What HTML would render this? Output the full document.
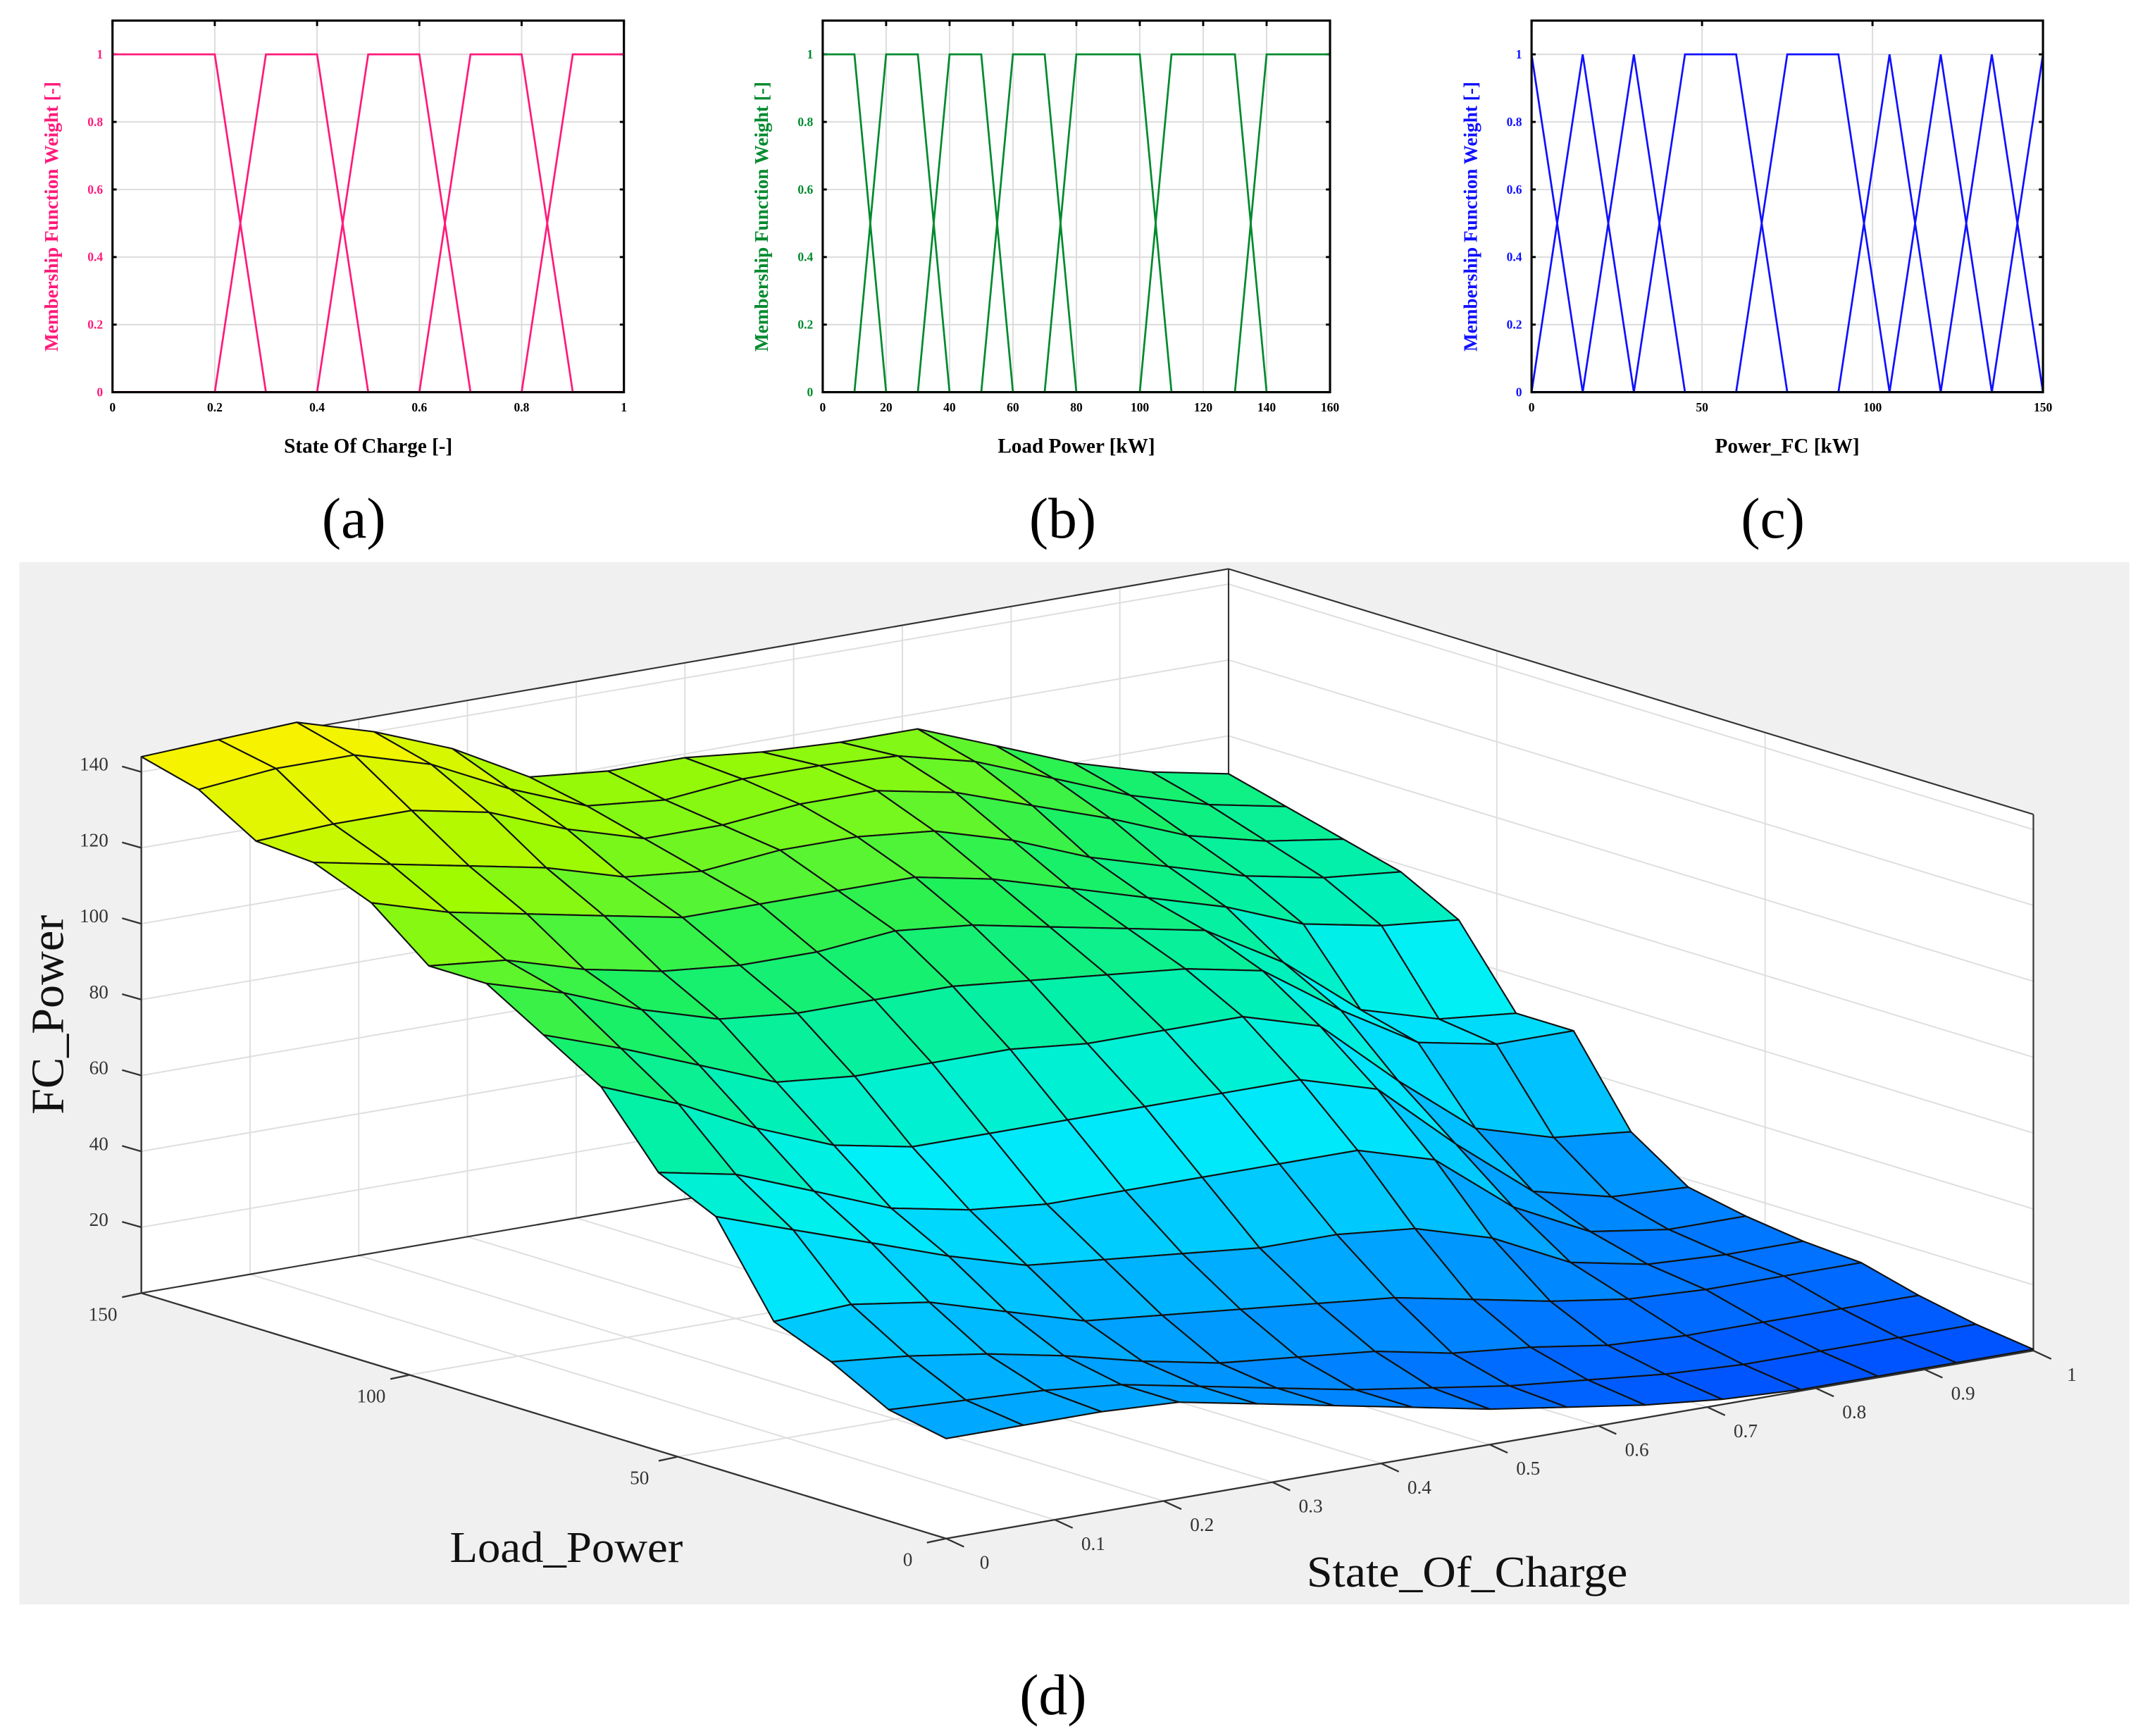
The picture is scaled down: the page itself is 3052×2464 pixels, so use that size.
<!DOCTYPE html>
<html><head><meta charset="utf-8"><title>Fuzzy membership functions and FC power surface</title>
<style>
html,body{margin:0;padding:0;background:#fff;}
svg{display:block;}
text{font-family:"Liberation Serif",serif;}
</style></head>
<body>
<svg id="fig" xmlns="http://www.w3.org/2000/svg" width="3052" height="2464" viewBox="0 0 1568 1266">
<rect x="0" y="0" width="1568" height="1266" fill="#fff"/>
<g id="panels"></g>
<text x="258" y="392" font-size="42" text-anchor="middle">(a)</text>
<text x="775" y="392" font-size="42" text-anchor="middle">(b)</text>
<text x="1293" y="392" font-size="42" text-anchor="middle">(c)</text>
<rect x="14" y="410" width="1539" height="760" fill="#f0f0f0"/>
<g id="plot3d"></g>
<text x="768" y="1250" font-size="42" text-anchor="middle">(d)</text>
</svg>
<script>
// ---------- membership function data ----------
const socMFs = [[0,0,0.2,0.3],[0.2,0.3,0.4,0.5],[0.4,0.5,0.6,0.7],[0.6,0.7,0.8,0.9],[0.8,0.9,1,1]];
const socTicks = [0,0.2,0.4,0.6,0.8,1];
const loadMFs = [[0,0,10,20],[10,20,30,40],[30,40,50,60],[50,60,70,80],[70,80,100,110],[100,110,130,140],[130,140,160,160]];
const loadTicks = [0,20,40,60,80,100,120,140,160];
const fcMFs = [[0,0,0,15],[0,15,15,30],[15,30,30,45],[30,45,60,75],[60,75,90,105],[90,105,105,120],[105,120,120,135],[120,135,135,150],[135,150,150,150]];
const fcTicks = [0,50,100,150];
const weightTicks = [0,0.2,0.4,0.6,0.8,1];

// ---------- surface data (FC_Power), rows = Load_Power index 0..14 (0..150), cols = SOC 0..1 ----------
const loadGrid = [0,10.7,21.4,32.1,42.9,53.6,64.3,75,85.7,96.4,107.1,117.9,128.6,139.3,150];
const socGrid = [0,0.071,0.143,0.214,0.286,0.357,0.429,0.5,0.571,0.643,0.714,0.786,0.857,0.929,1];
const fcRow0  = [29,29,29,28,24,20,16,12,9,6,4,3,3,3,3];
const fcRow1  = [32,31,30,28,24,20,16,13,10,8,6,5,5,5,5];
const fcRow2  = [40,38,35,31,26,22,20,18,14,12,9,8,8,8,8];
const fcRow3  = [46,47,44,38,32,30,28,26,24,20,16,13,12,12,12];
const fcRow4  = [69,62,55,48,42,40,38,36,36,34,28,18,14,13,13];
const fcRow5  = [76,72,64,56,52,50,50,50,50,50,44,28,18,15,15];
const fcRow6  = [94,86,76,68,64,64,64,64,64,64,58,40,24,19,18];
const fcRow7  = [103,96,88,80,78,78,78,76,76,76,70,52,36,30,28];
const fcRow8  = [112,106,98,92,90,90,90,88,86,84,80,66,54,50,50];
const fcRow9  = [112,110,104,100,98,98,100,98,94,90,86,74,58,52,50];
const fcRow10 = [124,118,114,110,106,106,106,106,102,96,90,84,76,72,70];
const fcRow11 = [130,126,122,118,112,110,112,112,110,104,96,90,84,80,78];
const fcRow12 = [131,132,132,128,120,114,114,116,116,112,105,98,90,85,82];
const fcRow13 = [140,142,142,136,126,118,116,118,118,117,112,104,96,90,86];
const fcRow14 = [144,145,146,140,132,121,119,119,117,116,116,108,100,94,90];
const fcPower = [fcRow0,fcRow1,fcRow2,fcRow3,fcRow4,fcRow5,fcRow6,fcRow7,fcRow8,fcRow9,fcRow10,fcRow11,fcRow12,fcRow13,fcRow14];
const zTicks = [20,40,60,80,100,120,140];
const loadAxisTicks = [0,50,100,150];
const socAxisTicks = [0,0.1,0.2,0.3,0.4,0.5,0.6,0.7,0.8,0.9,1];

const NS = "http://www.w3.org/2000/svg";
function mk(parent, tag, attrs){
  const e = document.createElementNS(NS, tag);
  for (const k in attrs) e.setAttribute(k, attrs[k]);
  parent.appendChild(e);
  return e;
}

// ---------- 2D panels ----------
function panel(cfg){
  const g = document.getElementById('panels');
  const L = cfg.x0, R = cfg.x1, T = 15, B = 286;
  const xs = v => L + (v - cfg.min) / (cfg.max - cfg.min) * (R - L);
  const ys = v => B - v / 1.1 * (B - T);
  const bg = mk(g,'rect',{x:L,y:T,width:R-L,height:B-T,fill:'#fff'});
  
  
  weightTicks.forEach(v => {
    const gl = mk(g,'line',{x1:L,x2:R,y1:ys(v),y2:ys(v),stroke:'#dcdcdc','stroke-width':1});
    
    
    const tk = mk(g,'line',{x1:L,x2:L+3,y1:ys(v),y2:ys(v),stroke:'#000','stroke-width':1.5});
    
    
    const tk2 = mk(g,'line',{x1:R-3,x2:R,y1:ys(v),y2:ys(v),stroke:'#000','stroke-width':1.5});
    
    
    const t = mk(g,'text',{x:L-7,y:ys(v)+3,'font-size':9,'font-weight':'bold','text-anchor':'end',fill:cfg.color});
    t.textContent = v;
    
    
  });
  cfg.ticks.forEach(v => {
    const gl = mk(g,'line',{x1:xs(v),x2:xs(v),y1:T,y2:B,stroke:'#dcdcdc','stroke-width':1});
    
    
    const tk = mk(g,'line',{x1:xs(v),x2:xs(v),y1:T,y2:T+4,stroke:'#000','stroke-width':1.5});
    
    
    const t = mk(g,'text',{x:xs(v),y:B+14,'font-size':9,'font-weight':'bold','text-anchor':'middle',fill:'#000'});
    t.textContent = v;
    
    
  });
  cfg.mfs.forEach((m, i) => {
    const pts = [[cfg.min,0],[m[0],0],[m[1],1],[m[2],1],[m[3],0],[cfg.max,0]];
    if (m[0] === cfg.min && m[1] === cfg.min) pts.splice(0,2,[cfg.min,1]);
    if (m[3] === cfg.max && m[2] === cfg.max) pts.splice(pts.length-2,2,[cfg.max,1]);
    const p = mk(g,'polyline',{points:pts.map(q => xs(q[0]).toFixed(2)+','+ys(q[1]).toFixed(2)).join(' '),fill:'none',stroke:cfg.color,'stroke-width':1.4});
    
    
  });
  const fr = mk(g,'rect',{x:L,y:T,width:R-L,height:B-T,fill:'none',stroke:'#000','stroke-width':1.6});
  
  
  const xl = mk(g,'text',{x:(L+R)/2,y:330,'font-size':15,'font-weight':'bold','text-anchor':'middle',fill:'#000'});
  xl.textContent = cfg.xlabel;
  
  
  const yl = mk(g,'text',{x:0,y:0,'font-size':14,'font-weight':'bold','text-anchor':'middle',fill:cfg.color,transform:'translate('+(L-40)+',158) rotate(-90)'});
  yl.textContent = 'Membership Function Weight [-]';
  
  
}
panel({id:'soc-panel',x0:82,x1:455,min:0,max:1,ticks:socTicks,mfs:socMFs,color:'#ff1a7a',xlabel:'State Of Charge [-]'});
panel({id:'load-panel',x0:600,x1:970,min:0,max:160,ticks:loadTicks,mfs:loadMFs,color:'#008a2e',xlabel:'Load Power [kW]'});
panel({id:'fc-panel',x0:1117,x1:1490,min:0,max:150,ticks:fcTicks,mfs:fcMFs,color:'#1010ff',xlabel:'Power_FC [kW]'});

// ---------- 3D surface ----------
const g3 = document.getElementById('plot3d');
const ZMIN = 2.65, ZMAX = 144, KZ = 2.767;
function P(L, S, z){
  return [690 - (L/150)*587 + S*793, 1122 - (L/150)*179 - S*137 - (z - ZMIN)*KZ];
}
function pstr(a){ return a.map(p => p[0].toFixed(2)+','+p[1].toFixed(2)).join(' '); }

const walls = mk(g3,'polygon',{points:pstr([P(0,0,ZMIN),P(150,0,ZMIN),P(150,0,ZMAX),P(150,1,ZMAX),P(0,1,ZMAX),P(0,1,ZMIN)]),fill:'#fff'});



const grid = '#dedede';
zTicks.forEach(z => {
  const a = mk(g3,'polyline',{points:pstr([P(150,0,z),P(150,1,z),P(0,1,z)]),fill:'none',stroke:grid,'stroke-width':1});
  
  
});
socAxisTicks.forEach(s => {
  const a = mk(g3,'polyline',{points:pstr([P(0,s,ZMIN),P(150,s,ZMIN),P(150,s,ZMAX)]),fill:'none',stroke:grid,'stroke-width':1});
  
  
});
loadAxisTicks.forEach(l => {
  const a = mk(g3,'polyline',{points:pstr([P(l,0,ZMIN),P(l,1,ZMIN),P(l,1,ZMAX)]),fill:'none',stroke:grid,'stroke-width':1});
  
  
});
[[P(150,0,ZMIN),P(150,1,ZMIN)],[P(150,1,ZMIN),P(0,1,ZMIN)],[P(150,1,ZMIN),P(150,1,ZMAX)],[P(150,0,ZMAX),P(150,1,ZMAX)],[P(150,1,ZMAX),P(0,1,ZMAX)],[P(0,1,ZMIN),P(0,1,ZMAX)],[P(150,0,ZMIN),P(150,0,ZMAX)]].forEach(s => {
  const l = mk(g3,'line',{x1:s[0][0],y1:s[0][1],x2:s[1][0],y2:s[1][1],stroke:'#333','stroke-width':1.1});
  
  
});

function color(z){
  const stops = [[3,[0,80,255]],[20,[0,140,255]],[40,[0,195,255]],[60,[0,240,250]],[80,[0,240,175]],[100,[30,240,90]],[120,[160,250,0]],[140,[240,245,0]],[146,[250,240,0]]];
  for (let i = 0; i < stops.length-1; i++){
    const a = stops[i], b = stops[i+1];
    if (z <= b[0]){
      const t = Math.max(0,(z-a[0])/(b[0]-a[0]));
      return 'rgb('+a[1].map((c,k)=>Math.round(c+(b[1][k]-c)*t)).join(',')+')';
    }
  }
  return 'rgb(250,240,0)';
}
const quads = [];
for (let i = 0; i < loadGrid.length-1; i++){
  for (let j = 0; j < socGrid.length-1; j++){
    quads.push([i,j]);
  }
}
quads.sort((a,b) => (b[0] + b[1]) - (a[0] + a[1]));
quads.forEach(q => {
  const i = q[0], j = q[1];
  const z1 = fcPower[i][j], z2 = fcPower[i+1][j], z3 = fcPower[i+1][j+1], z4 = fcPower[i][j+1];
  const pts = [P(loadGrid[i],socGrid[j],z1),P(loadGrid[i+1],socGrid[j],z2),P(loadGrid[i+1],socGrid[j+1],z3),P(loadGrid[i],socGrid[j+1],z4)];
  const f = mk(g3,'polygon',{points:pstr(pts),fill:color((z1+z2+z3+z4)/4),stroke:'#111','stroke-width':1.1,'stroke-linejoin':'round'});
  
  
});

[[P(150,0,ZMIN),P(0,0,ZMIN)],[P(0,0,ZMIN),P(0,1,ZMIN)],[P(150,0,ZMIN),P(150,0,ZMAX)]].forEach(s => {
  const l = mk(g3,'line',{x1:s[0][0],y1:s[0][1],x2:s[1][0],y2:s[1][1],stroke:'#333','stroke-width':1.2});
  
  
});
const labelFont = '"Liberation Sans", sans-serif';
zTicks.forEach(z => {
  const p = P(150,0,z);
  const t = mk(g3,'line',{x1:p[0]-14,y1:p[1]-4,x2:p[0],y2:p[1],stroke:'#333','stroke-width':1.2});
  
  
  const tx = mk(g3,'text',{x:p[0]-24,y:p[1]-1,'font-size':14,'text-anchor':'end',fill:'#333','font-family':labelFont});
  tx.textContent = z;
  
  
});
loadAxisTicks.forEach(l => {
  const p = P(l,0,ZMIN);
  const t = mk(g3,'line',{x1:p[0],y1:p[1],x2:p[0]-14,y2:p[1]+3,stroke:'#333','stroke-width':1.2});
  
  
  const tx = mk(g3,'text',{x:p[0]-28,y:p[1]+20,'font-size':14,'text-anchor':'middle',fill:'#333','font-family':labelFont});
  tx.textContent = l;
  
  
});
socAxisTicks.forEach(s => {
  const p = P(0,s,ZMIN);
  const t = mk(g3,'line',{x1:p[0],y1:p[1],x2:p[0]+13,y2:p[1]+6,stroke:'#333','stroke-width':1.2});
  
  
  const tx = mk(g3,'text',{x:p[0]+28,y:p[1]+22,'font-size':14,'text-anchor':'middle',fill:'#333','font-family':labelFont});
  tx.textContent = s;
  
  
});
const zl = mk(g3,'text',{x:0,y:0,'font-size':34,'text-anchor':'middle',fill:'#111',transform:'translate(46,740) rotate(-90)'});
zl.textContent = 'FC_Power';


const ll = mk(g3,'text',{x:413,y:1139,'font-size':32,'text-anchor':'middle',fill:'#111',textLength:170,lengthAdjust:'spacingAndGlyphs'});
ll.textContent = 'Load_Power';


const sl = mk(g3,'text',{x:1070,y:1157,'font-size':32,'text-anchor':'middle',fill:'#111',textLength:234,lengthAdjust:'spacingAndGlyphs'});
sl.textContent = 'State_Of_Charge';


</script>
</body></html>
